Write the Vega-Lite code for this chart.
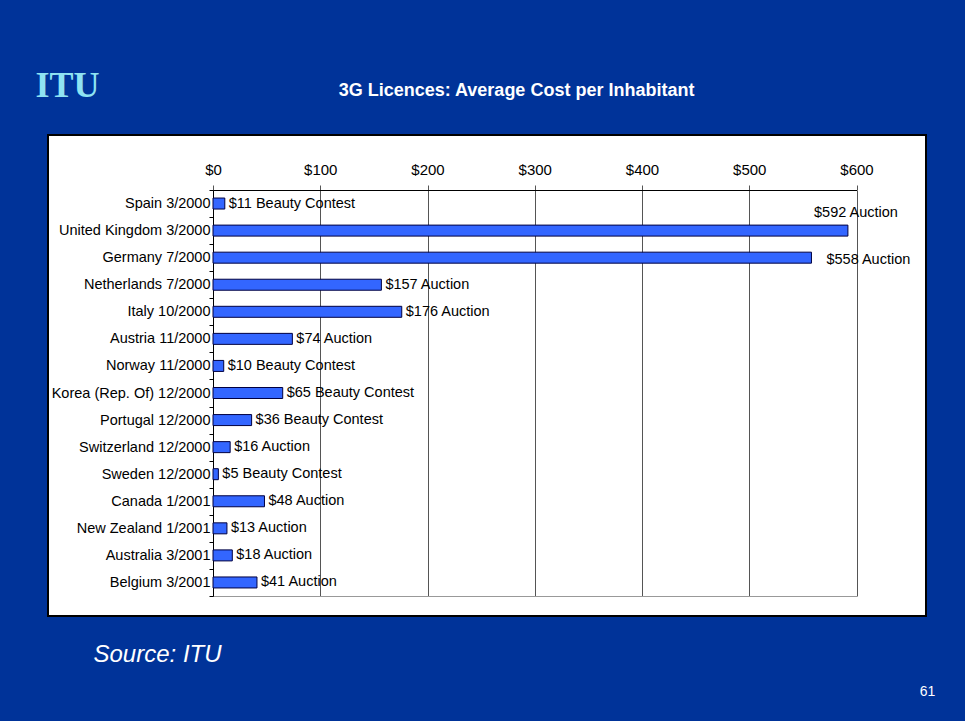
{
  "$schema": "https://vega.github.io/schema/vega-lite/v6.json",
  "width": 878,
  "height": 481,
  "autosize": {"type": "none"},
  "padding": {"left": 48, "top": 135, "right": 39, "bottom": 105},
  "background": "#003399",
  "config": {
    "font": "Liberation Sans",
    "view": {"fill": "white", "stroke": "black", "strokeWidth": 2}
  },
  "data": {
    "values": [
      {"country": "Spain 3/2000", "cost": 11, "method": "Beauty Contest"},
      {"country": "United Kingdom 3/2000", "cost": 592, "method": "Auction"},
      {"country": "Germany 7/2000", "cost": 558, "method": "Auction"},
      {"country": "Netherlands 7/2000", "cost": 157, "method": "Auction"},
      {"country": "Italy 10/2000", "cost": 176, "method": "Auction"},
      {"country": "Austria 11/2000", "cost": 74, "method": "Auction"},
      {"country": "Norway  11/2000", "cost": 10, "method": "Beauty Contest"},
      {"country": "Korea (Rep. Of) 12/2000", "cost": 65, "method": "Beauty Contest"},
      {"country": "Portugal  12/2000", "cost": 36, "method": "Beauty Contest"},
      {"country": "Switzerland  12/2000", "cost": 16, "method": "Auction"},
      {"country": "Sweden 12/2000", "cost": 5, "method": "Beauty Contest"},
      {"country": "Canada 1/2001", "cost": 48, "method": "Auction"},
      {"country": "New Zealand 1/2001", "cost": 13, "method": "Auction"},
      {"country": "Australia 3/2001", "cost": 18, "method": "Auction"},
      {"country": "Belgium 3/2001", "cost": 41, "method": "Auction"}
    ]
  },
  "transform": [{"calculate": "'$' + datum.cost + ' ' + datum.method", "as": "label"}],
  "layer": [
    {
      "mark": {"type": "bar", "height": 11, "fill": "#3366ff", "stroke": "#000040", "strokeWidth": 1},
      "encoding": {
        "x": {
          "field": "cost", "type": "quantitative",
          "scale": {"domain": [0, 600], "range": [165, 808.5], "nice": false},
          "axis": {
            "orient": "top", "offset": -55,
            "values": [0, 100, 200, 300, 400, 500, 600], "format": "$.0f",
            "labelFlush": false, "labelOverlap": false,
            "labelFontSize": 15, "labelColor": "black", "labelBaseline": "alphabetic", "labelPadding": 11,
            "tickSize": 5, "tickColor": "#555555", "domainColor": "black", "domainWidth": 1,
            "grid": true, "gridColor": "#555555", "gridOpacity": 1, "gridWidth": 1,
            "title": "3G Licences: Average Cost per Inhabitant",
            "titleX": 468, "titleY": -95, "titleAlign": "center", "titleBaseline": "alphabetic",
            "titleFontSize": 18, "titleFontWeight": "bold", "titleColor": "white", "titleAngle": 0
          }
        },
        "y": {
          "field": "country", "type": "nominal", "sort": null,
          "scale": {"range": [55, 461], "paddingInner": 0, "paddingOuter": 0},
          "axis": {
            "orient": "left", "offset": -165, "tickBand": "extent",
            "tickSize": 4, "tickColor": "black", "domainColor": "black", "domainWidth": 1,
            "labelPadding": -1, "labelFontSize": 14.5, "labelColor": "black", "labelLimit": 300,
            "grid": false,
            "title": "ITU", "titleX": -146, "titleY": -50, "titleAngle": 0, "titleAlign": "center",
            "titleBaseline": "middle", "titleFont": "Liberation Serif", "titleFontSize": 36,
            "titleFontWeight": "bold", "titleColor": "#8fe3f2"
          }
        }
      }
    },
    {
      "transform": [{"filter": "datum.cost < 500"}],
      "mark": {"type": "text", "align": "left", "baseline": "middle", "dx": 4, "fontSize": 14.5, "color": "black"},
      "encoding": {
        "x": {
          "field": "cost", "type": "quantitative",
          "axis": {
            "orient": "bottom", "offset": -20, "labels": false, "ticks": false, "grid": false,
            "domainColor": "#999999", "domainWidth": 1,
            "title": "Source: ITU", "titleX": 45, "titleY": 65, "titleAlign": "left", "titleBaseline": "alphabetic",
            "titleFontSize": 24, "titleFontStyle": "italic", "titleFontWeight": "normal", "titleColor": "white", "titleAngle": 0
          }
        },
        "y": {
          "field": "country", "type": "nominal", "sort": null,
          "axis": {
            "orient": "right", "labels": false, "ticks": false, "domain": false, "grid": false,
            "title": "61", "titleX": 1, "titleY": 560, "titleAngle": 0, "titleAlign": "center",
            "titleBaseline": "alphabetic", "titleFontSize": 14, "titleFontWeight": "normal", "titleColor": "white"
          }
        },
        "text": {"field": "label"}
      }
    },
    {
      "transform": [{"filter": "datum.country == 'United Kingdom 3/2000'"}],
      "mark": {"type": "text", "align": "center", "baseline": "middle", "dx": 8, "dy": -18, "fontSize": 14.5, "color": "black"},
      "encoding": {
        "x": {"field": "cost", "type": "quantitative", "axis": null},
        "y": {"field": "country", "type": "nominal", "sort": null, "axis": null},
        "text": {"field": "label"}
      }
    },
    {
      "transform": [{"filter": "datum.country == 'Germany 7/2000'"}],
      "mark": {"type": "text", "align": "left", "baseline": "middle", "dx": 15, "dy": 2, "fontSize": 14.5, "color": "black"},
      "encoding": {
        "x": {"field": "cost", "type": "quantitative", "axis": null},
        "y": {"field": "country", "type": "nominal", "sort": null, "axis": null},
        "text": {"field": "label"}
      }
    }
  ],
  "resolve": {"axis": {"x": "independent", "y": "independent"}}
}
